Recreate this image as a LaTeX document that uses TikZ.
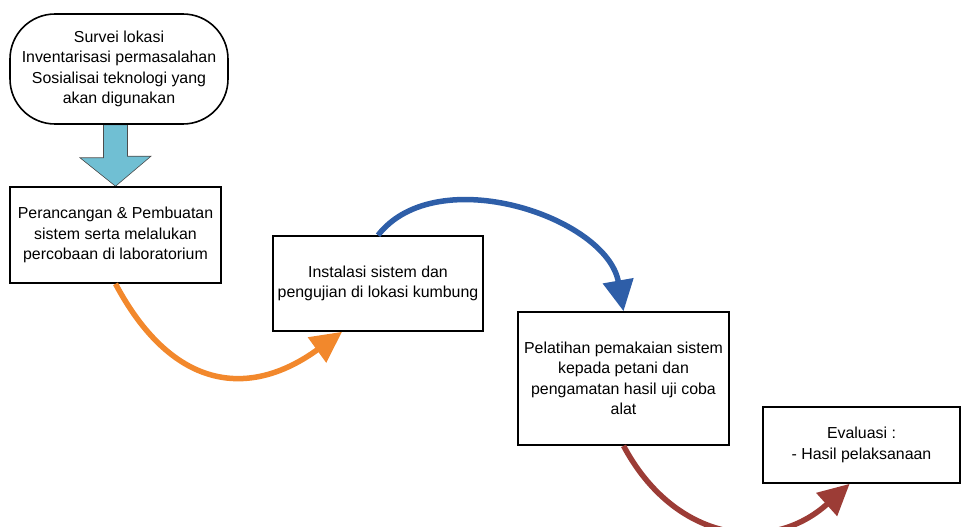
\documentclass[tikz,border=0pt]{standalone}
\usepackage{fontspec}
\setmainfont{Liberation Sans}
\usetikzlibrary{arrows.meta,calc,backgrounds}
\definecolor{downcyan}{RGB}{112,191,211}
\definecolor{floworange}{RGB}{242,136,44}
\definecolor{flowblue}{RGB}{46,94,168}
\definecolor{flowred}{RGB}{156,60,54}

\begin{document}
\begin{tikzpicture}[scale=0.3515]
\tikzstyle{every node}+=[font=\fontsize{15.9}{20.5}\selectfont, align=center, inner sep=0pt]
\tikzstyle{stepbox}=[draw=black, line width=1.6pt, fill=white, minimum width=211pt]
\tikzstyle{curvearrow}=[line width=5.5pt, -{Triangle[length=31pt,width=30pt]}]
\clip (0,0) rectangle (96.1,-52.7);
\node [stepbox, rounded corners=45pt, minimum width=218pt, minimum height=110pt] (survei) at (11.9,-6.9) {Survei lokasi\\Inventarisasi permasalahan\\Sosialisai teknologi yang\\akan digunakan};
\node [stepbox, minimum height=96pt] (rancang) at (11.55,-23.5) {Perancangan \& Pembuatan\\sistem serta melalukan\\percobaan di laboratorium};
\node [stepbox, minimum width=210pt, minimum height=95pt] (instal) at (37.8,-28.35) {Instalasi sistem dan\\pengujian di lokasi kumbung};
\node [stepbox, minimum height=133pt] (latih) at (62.35,-37.85) {Pelatihan pemakaian sistem\\kepada petani dan\\pengamatan hasil uji coba\\alat};
\node [stepbox, minimum width=197pt, minimum height=76pt] (eval) at (86.15,-44.5) {Evaluasi :\\- Hasil pelaksanaan};
\begin{pgfonlayer}{background}
\draw [draw=gray!60!black, line width=0.6pt, fill=downcyan] ($(rancang.north |- survei.south)+(-1.2,0)$) -- ++(0,-3.3) -- ++(-2.35,0) -- (rancang.north) -- ($(rancang.north)+(3.55,3.0)$) -- ++(-2.35,0) -- ($(rancang.north |- survei.south)+(1.2,0)$) -- cycle;
\end{pgfonlayer}
\draw [curvearrow, floworange] (rancang.south) to [out=-62, in=216, looseness=1.3] ($(instal.south west)!0.33!(instal.south east)$);
\draw [curvearrow, flowblue] (instal.north) to [out=52, in=100, looseness=0.95] (latih.north);
\draw [curvearrow, flowred] (latih.south) to [out=-62, in=222, looseness=1.2] ($(eval.south west)!0.44!(eval.south east)$);
\end{tikzpicture}
\end{document}
